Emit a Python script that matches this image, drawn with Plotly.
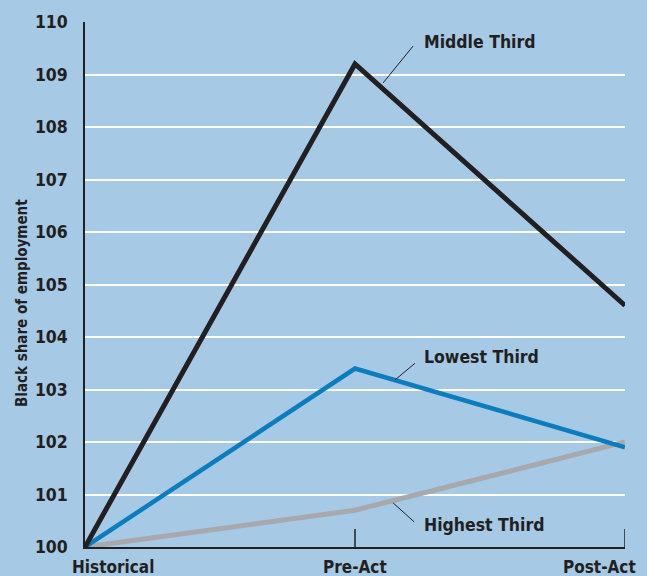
import plotly.graph_objects as go

# Periods along the x axis and employment share index per group
periods = ["Historical", "Pre-Act", "Post-Act"]
middle_third = [100.0, 109.2, 104.6]
lowest_third = [100.0, 103.4, 101.9]
highest_third = [100.0, 100.7, 102.0]
y_ticks = list(range(100, 111))

BG = "#a6c9e5"
INK = "#231f20"
FONT = "DejaVu Sans Condensed, Liberation Sans Narrow, Roboto, sans-serif"

fig = go.Figure()
x_idx = list(range(len(periods)))
fig.add_trace(go.Scatter(x=x_idx, y=highest_third, mode="lines",
                         line=dict(color="#a7a9ac", width=5), name="Highest Third"))
fig.add_trace(go.Scatter(x=x_idx, y=lowest_third, mode="lines",
                         line=dict(color="#0b7dbe", width=4.5), name="Lowest Third"))
fig.add_trace(go.Scatter(x=x_idx, y=middle_third, mode="lines",
                         line=dict(color=INK, width=5), name="Middle Third"))

# Series labels with thin leader lines
labels = [
    ("Middle Third", (1.104, 108.84), (1.215, 109.54), 109.62),
    ("Lowest Third", (1.148, 103.18), (1.222, 103.50), 103.62),
    ("Highest Third", (1.141, 100.84), (1.219, 100.48), 100.42),
]
for text, p0, p1, ty in labels:
    fig.add_shape(type="line", x0=p0[0], y0=p0[1], x1=p1[0], y1=p1[1],
                  xref="x", yref="y", line=dict(color=INK, width=1))
    fig.add_annotation(x=1.248, y=ty, xref="x", yref="y", text=text,
                       showarrow=False, xanchor="left", yanchor="middle",
                       font=dict(family=FONT, size=17.5, color=INK, weight=700))

# Upward tick marks at the later periods
for i in x_idx[1:]:
    fig.add_shape(type="line", x0=i, x1=i, y0=0, y1=18 / 525,
                  xref="x", yref="paper", line=dict(color=INK, width=1.5))

# Category labels under the axis, kept inside the frame at both ends
anchors = ["left", "center", "right"]
shifts = [-15, 0, 13]
for i, (p, a, s) in enumerate(zip(periods, anchors, shifts)):
    fig.add_annotation(x=i, y=0, xref="x", yref="paper", text=p, showarrow=False,
                       xanchor=a, yanchor="top", xshift=s, yshift=-8,
                       font=dict(family=FONT, size=17, color=INK, weight=700))

# Vertical axis title, placed a little below the plot's middle
fig.add_annotation(x=0, y=(547 - 303) / 525, xref="paper", yref="paper",
                   xshift=-63, text="Black share of employment", textangle=-90,
                   showarrow=False, xanchor="center", yanchor="middle",
                   font=dict(family=FONT, size=15, color=INK, weight=700))

fig.update_layout(
    width=647, height=576,
    margin=dict(l=85, r=22, t=22, b=29),
    paper_bgcolor=BG, plot_bgcolor=BG,
    showlegend=False,
    xaxis=dict(range=[0, 2], tickvals=x_idx, showticklabels=False,
               showgrid=False, zeroline=False,
               showline=True, linecolor=INK, linewidth=1.5, ticks=""),
    yaxis=dict(range=[100, 110], tickvals=y_ticks,
               showgrid=True, gridcolor="white", gridwidth=2, zeroline=False,
               showline=True, linecolor=INK, linewidth=1.5,
               ticks="", ticklabelstandoff=12,
               tickfont=dict(family=FONT, size=17.5, color=INK, weight=700)),
)

fig.write_html("out.html")
